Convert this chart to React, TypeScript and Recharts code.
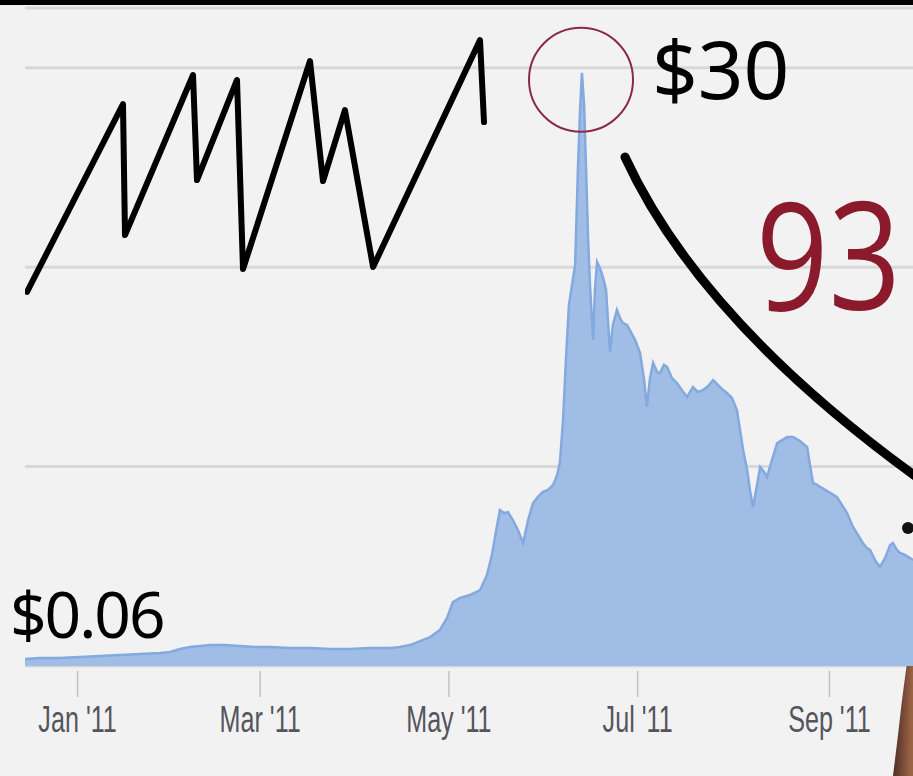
import React from 'react';
import {
  ComposedChart,
  Area,
  Line,
  XAxis,
  YAxis,
  CartesianGrid,
  ReferenceDot,
  Customized,
} from 'recharts';

// Days offset from 1 Jan 2011, and price (USD)
const priceDays = [
  -17.0, -12.2, -5.7, 0.8, 7.2, 13.7, 20.2, 26.6, 29.9, 33.1, 36.3, 39.6, 42.8, 47.6, 52.5, 57.3, 62.2, 68.7,
  75.1, 81.6, 88.0, 94.5, 101.0, 104.2, 107.4, 110.7, 113.9, 117.1, 119.4, 121.3, 123.6, 126.8, 130.1, 132.3,
  133.9, 135.6, 136.5, 137.8, 139.1, 140.7, 142.3, 144.0, 145.6, 147.2, 148.8, 150.4, 152.0, 153.7, 155.0,
  155.9, 156.9, 157.9, 158.8, 159.8, 160.8, 161.7, 162.4, 163.0, 163.7, 164.3, 165.0, 165.6, 166.6, 167.2,
  167.9, 168.8, 169.8, 170.8, 171.4, 172.1, 173.0, 174.3, 175.3, 176.3, 177.6, 178.5, 180.2, 181.8, 183.1,
  184.0, 185.0, 186.0, 187.3, 188.2, 189.5, 190.5, 192.1, 193.7, 195.3, 197.0, 197.9, 198.9, 200.5, 202.1,
  203.8, 205.4, 207.0, 208.6, 209.9, 211.5, 213.1, 214.1, 215.1, 216.4, 217.3, 218.3, 219.3, 220.6, 221.9,
  222.8, 224.4, 226.1, 227.7, 229.3, 231.2, 233.5, 235.8, 236.7, 237.7, 239.0, 240.0, 241.6, 243.2, 245.4,
  247.1, 248.7, 250.6, 252.2, 253.8, 255.1, 256.1, 257.7, 259.3, 261.0, 262.6, 263.5, 264.8, 265.8, 267.4,
  270.0,
];
const priceValues = [
  0.35, 0.4, 0.4, 0.45, 0.5, 0.55, 0.6, 0.65, 0.7, 0.85, 0.95, 1.0, 1.05, 1.05, 1.0, 0.95, 0.95, 0.9,
  0.9, 0.85, 0.85, 0.9, 0.9, 0.95, 1.05, 1.25, 1.45, 1.81, 2.41, 3.21, 3.41, 3.56, 3.81, 4.56,
  5.57, 7.07, 7.82, 7.67, 7.72, 7.32, 6.82, 6.17, 7.32, 8.17, 8.48, 8.73, 8.83, 9.08, 9.58,
  10.23, 12.34, 15.6, 18.11, 19.11, 20.11, 24.88, 27.89, 29.75, 28.14, 25.13, 21.37, 19.11, 16.35, 18.86,
  20.26, 19.96, 19.51, 18.86, 17.35, 15.75, 17.1, 17.85, 17.45, 17.2, 17.1, 16.85, 16.35, 15.7, 14.34,
  12.99, 14.44, 15.2, 14.74, 14.69, 15.1, 15.0, 14.44, 14.19, 13.84, 13.49, 13.74, 13.99, 13.74, 13.84,
  14.04, 14.34, 14.09, 13.84, 13.69, 13.44, 12.84, 11.84, 10.83, 9.83, 8.83, 7.97, 8.83, 9.98, 9.73,
  9.48, 10.33, 11.18, 11.33, 11.48, 11.48, 11.28, 10.98, 10.08, 9.18, 9.08, 8.98, 8.83, 8.68, 8.48,
  8.07, 7.67, 6.97, 6.57, 6.17, 5.92, 5.82, 5.32, 4.97, 5.42, 6.07, 6.17, 5.82, 5.67, 5.57,
  5.32,
];

// Hand-drawn zigzag doodle, in the same day / price units
const doodleDays = [-16.35, 14.67, 15.32, 37.3, 38.59, 51.52, 53.46, 75.11, 79.32, 86.4, 95.5, 130.06, 131.35];
const doodleValues = [18.76, 28.18, 21.61, 29.64, 24.37, 29.39, 19.91, 30.34, 24.32, 27.88, 20.01, 31.39, 27.28];

const tickDays = [0, 59, 120, 181, 243];
const tickLabels = ["Jan '11", "Mar '11", "May '11", "Jul '11", "Sep '11"];

const gridValues = [0, 10, 20, 30];

const peakCircle = { d: 162.7, v: 29.4 };

const priceData = priceDays.map((d, i) => ({ d, price: priceValues[i] }));
const doodleData = doodleDays.map((d, i) => ({ d, doodle: doodleValues[i] }));

const AxisTick = (props: any) => {
  const { x, y, payload } = props;
  const idx = tickDays.indexOf(payload.value);
  const label = idx >= 0 ? tickLabels[idx] : '';
  return (
    <g>
      <line x1={x} x2={x} y1={y + 5} y2={y + 31} stroke="#c2c2ca" strokeWidth={1.5} />
      <text
        transform={`translate(${x},${y + 66}) scale(0.68,1)`}
        textAnchor="middle"
        fontFamily="'Liberation Sans', Arial, sans-serif"
        fontSize={37}
        fill="#55555d"
      >
        {label}
      </text>
    </g>
  );
};

const Annotations = () => (
  <g>
    <defs>
      <linearGradient id="hand" x1="0" y1="0" x2="1" y2="0.2">
        <stop offset="0" stopColor="#3a2820" />
        <stop offset="0.5" stopColor="#6a4232" />
        <stop offset="1" stopColor="#9a6244" />
      </linearGradient>
    </defs>
    <text x={652} y={99} fontFamily="'Noto Sans', sans-serif" fontSize={80} fill="#000">
      $30
    </text>
    <text x={10} y={638} fontFamily="'Noto Sans', sans-serif" fontSize={64} fill="#000" letterSpacing={-2}>
      $0.06
    </text>
    <text
      transform="translate(756,310) scale(0.84,1)"
      fontFamily="'Open Sans', 'Noto Sans', sans-serif"
      fontWeight={400}
      fontSize={151}
      fill="#8a1a2c"
    >
      93
    </text>
    <path d="M 625 157 Q 700 320 918 478" fill="none" stroke="#000" strokeWidth={9} strokeLinecap="round" />
    <circle cx={908} cy={528} r={6} fill="#111" />
    <path
      d="M 913 608 L 910 640 L 906 670 L 902 700 L 898 735 L 893 776 L 913 776 Z"
      fill="url(#hand)"
    />
  </g>
);

export default function App() {
  return (
    <div
      style={{
        position: 'absolute',
        left: 0,
        top: 0,
        width: 913,
        height: 776,
        overflow: 'hidden',
        background: '#f2f2f2',
      }}
    >
      <div style={{ position: 'absolute', left: 0, top: 0, width: 913, height: 5, background: '#000', zIndex: 2 }} />
      <ComposedChart width={913} height={776} margin={{ top: 8, right: 0, bottom: 0, left: 25 }}>
        <CartesianGrid vertical={false} stroke="#d8d8d8" strokeWidth={3} />
        <XAxis
          dataKey="d"
          type="number"
          domain={[-17, 270]}
          ticks={tickDays}
          interval={0}
          axisLine={false}
          tickLine={false}
          tickSize={0}
          tickMargin={0}
          height={110}
          tick={<AxisTick />}
          allowDataOverflow
        />
        <YAxis hide type="number" domain={[0, 33]} ticks={gridValues} allowDataOverflow />
        <Area
          data={priceData}
          dataKey="price"
          type="linear"
          stroke="#84a9df"
          strokeWidth={2.5}
          fill="#a0bde6"
          fillOpacity={1}
          isAnimationActive={false}
          dot={false}
          activeDot={false}
        />
        <Line
          data={doodleData}
          dataKey="doodle"
          type="linear"
          stroke="#000"
          strokeWidth={6}
          strokeLinejoin="round"
          strokeLinecap="round"
          dot={false}
          activeDot={false}
          isAnimationActive={false}
        />
        <ReferenceDot
          x={peakCircle.d}
          y={peakCircle.v}
          r={52}
          fill="none"
          stroke="#8a2a40"
          strokeWidth={2}
        />
        <Customized component={Annotations} />
      </ComposedChart>
    </div>
  );
}
